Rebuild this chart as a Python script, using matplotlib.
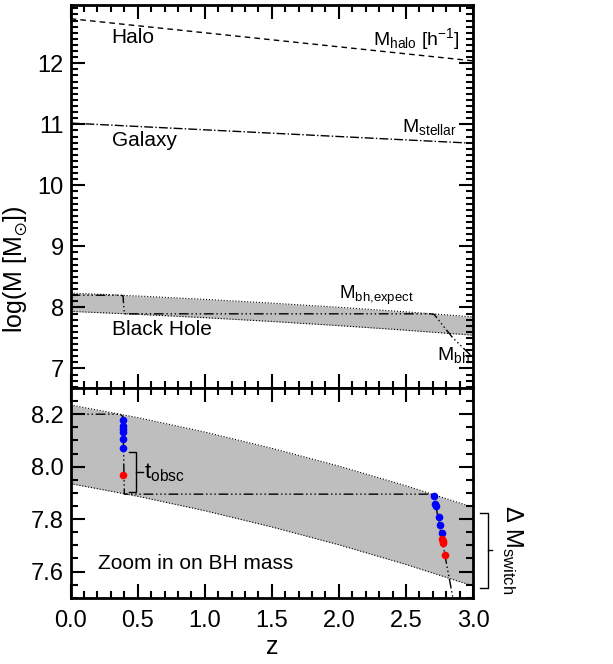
import numpy as np
import matplotlib.pyplot as plt
from matplotlib.ticker import MultipleLocator

plt.rcParams['font.family'] = ['Liberation Sans', 'DejaVu Sans']
plt.rcParams['mathtext.default'] = 'regular'

# halo and stellar mass histories
z_gal = [0.0, 1.0, 2.0, 3.0]
m_halo = [12.73, 12.50, 12.27, 12.04]
m_stellar = [11.02, 10.91, 10.80, 10.69]

# expected BH mass band (upper / lower edge)
z_band = [0.0, 0.5, 1.0, 1.5, 2.0, 2.5, 3.0]
band_hi = [8.235, 8.187, 8.132, 8.070, 8.002, 7.927, 7.845]
band_lo = [7.935, 7.887, 7.832, 7.770, 7.702, 7.627, 7.545]

# actual BH mass track
z_bh = [0.0, 0.37, 0.39, 0.40, 2.68, 2.71, 2.77, 2.79, 2.85, 3.0]
m_bh = [8.20, 8.20, 8.19, 7.895, 7.895, 7.887, 7.72, 7.664, 7.50, 7.18]

# switch points
z_blue = [0.392, 0.392, 0.392, 0.392, 0.392, 0.392,
          2.707, 2.719, 2.727, 2.746, 2.756, 2.766]
m_blue = [8.178, 8.155, 8.143, 8.132, 8.107, 8.072,
          7.887, 7.859, 7.851, 7.807, 7.776, 7.747]
z_red = [0.392, 2.771, 2.774, 2.775, 2.791]
m_red = [7.970, 7.725, 7.715, 7.708, 7.664]

bh_style = (0, (7, 2, 1, 2, 1, 2, 1, 2))

fig = plt.figure(figsize=(6.13, 6.64), dpi=100)
ax1 = fig.add_axes([0.1153, 0.4157, 0.6563, 0.5763])
ax2 = fig.add_axes([0.1153, 0.0998, 0.6563, 0.3159])

for ax in (ax1, ax2):
    ax.fill_between(z_band, band_lo, band_hi, color='#bebebe', lw=0)
    ax.plot(z_band, band_hi, color='k', ls=':', lw=0.8)
    ax.plot(z_band, band_lo, color='k', ls=':', lw=0.8)
    ax.plot(z_bh, m_bh, color='k', ls=bh_style, lw=1)
    ax.set_xlim(0, 3)
    ax.xaxis.set_major_locator(MultipleLocator(0.5))
    ax.xaxis.set_minor_locator(MultipleLocator(0.1))
    ax.tick_params(which='both', direction='in', top=True, right=True,
                   width=1.5, labelsize=17)
    ax.tick_params(which='major', length=10)
    ax.tick_params(which='minor', length=5)
    ax.tick_params(axis='x', pad=9)
    ax.tick_params(axis='y', pad=5)
    for s in ax.spines.values():
        s.set_linewidth(2)

ax1.plot(z_gal, m_halo, color='k', ls=(0, (4, 3)), lw=1)
ax1.plot(z_gal, m_stellar, color='k', ls='-.', lw=1)
ax1.set_ylim(6.68, 12.95)
ax1.yaxis.set_major_locator(MultipleLocator(1))
ax1.yaxis.set_minor_locator(MultipleLocator(0.1))
ax1.set_xticklabels([])
ax1.set_ylabel(r'log(M [M$_{\odot}$])', fontsize=18)
ax1.yaxis.set_label_coords(-0.1, 0.31)

ax1.text(0.305, 12.43, 'Halo', fontsize=15, va='center')
ax1.text(0.305, 10.74, 'Galaxy', fontsize=15, va='center')
ax1.text(0.305, 7.63, 'Black Hole', fontsize=15, va='center')
ax1.text(2.9, 12.4, r'$M_{halo}$ [h$^{-1}$]', fontsize=14, ha='right', va='center')
ax1.text(2.88, 10.95, r'$M_{stellar}$', fontsize=14, ha='right', va='center')
ax1.text(2.0, 8.2, r'$M_{bh{,}expect}$', fontsize=13.5, va='center')
ax1.text(2.73, 7.22, r'$M_{bh}$', fontsize=14, va='center')

ax2.plot(z_blue, m_blue, 'o', color='#0000ff', ms=5.5, mec='none')
ax2.plot(z_red, m_red, 'o', color='#ff0000', ms=5.5, mec='none')
ax2.set_ylim(7.5, 8.3)
ax2.yaxis.set_major_locator(MultipleLocator(0.2))
ax2.yaxis.set_minor_locator(MultipleLocator(0.05))
ax2.set_xlabel('z', fontsize=18, labelpad=2)
ax2.text(0.206, 7.632, 'Zoom in on BH mass', fontsize=15, va='center')

# t_obsc bracket
ax2.plot([0.437, 0.487, 0.487, 0.437], [8.056, 8.056, 7.904, 7.904], color='k', lw=1)
ax2.plot([0.487, 0.54], [7.979, 7.979], color='k', lw=1)
ax2.text(0.545, 7.975, r'$t_{obsc}$', fontsize=16, va='center')

# Delta M_switch bracket, outside the axes
fig.add_artist(plt.Line2D([480 / 613, 488 / 613, 488 / 613, 480 / 613],
                          [1 - 512.7 / 664, 1 - 512.7 / 664, 1 - 587.7 / 664, 1 - 587.7 / 664],
                          color='k', lw=1))
fig.add_artist(plt.Line2D([488 / 613, 492 / 613], [1 - 550 / 664, 1 - 550 / 664],
                          color='k', lw=1))
fig.text(512 / 613, 1 - 550 / 664, r'$\Delta$ $M_{switch}$', fontsize=17,
         rotation=-90, ha='center', va='center')

fig.savefig('out.png', dpi=100)
